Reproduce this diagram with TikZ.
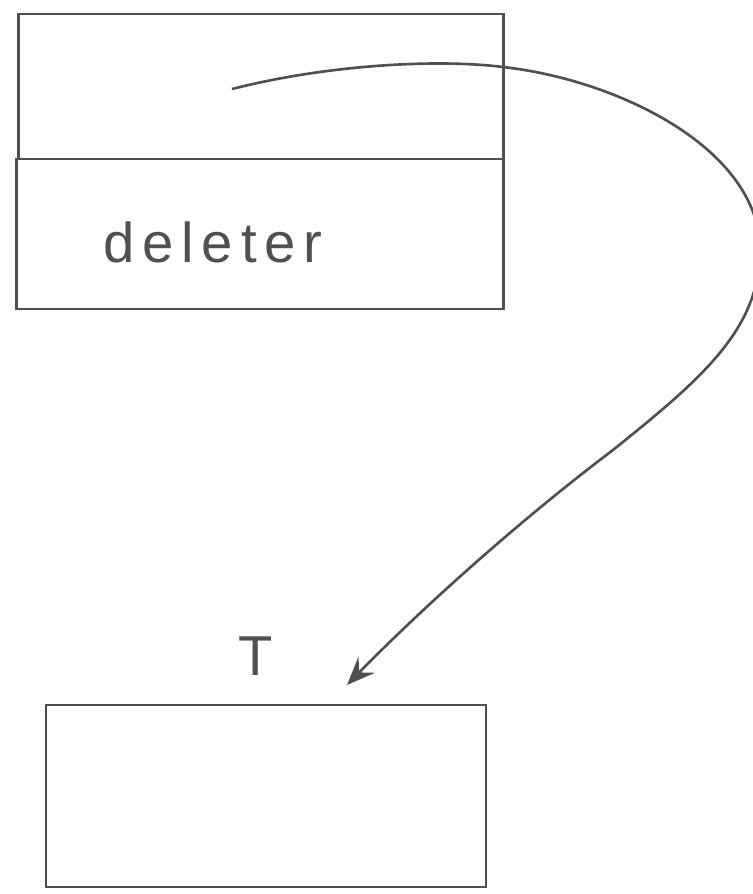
\documentclass[tikz,border=0pt]{standalone}
\usepackage{fontspec}
\newfontfamily\hand[LetterSpace=14]{Liberation Sans}
\usetikzlibrary{arrows.meta}
\definecolor{pencil}{HTML}{505050}
\tikzset{
  sketchbox/.style={draw=pencil, line width=1.5pt, rectangle, inner sep=0pt},
  sketchtext/.style={text=pencil, font=\hand\fontsize{32}{32}\selectfont, inner sep=0pt},
  pointer/.style={draw=pencil, line width=1.5pt, -{Stealth[length=16pt,width=13pt,inset=6pt]}}
}
\begin{document}
\begin{tikzpicture}[x=0.02cm,y=-0.02cm]
\useasboundingbox (0,0) rectangle (753,894);
% upper compartment of the structure
\node[sketchbox, minimum width=9.7cm, minimum height=2.9cm] (upper) at (261,86.5) {};
% lower compartment
\node[sketchbox, minimum width=9.74cm, minimum height=3.0cm] (lower) at (260,234) {};
\node[sketchtext, anchor=base] (deleter) at (213,262) {deleter};
% target box
\node[sketchbox, minimum width=8.8cm, minimum height=3.64cm] (tbox) at (266,796) {};
\node[sketchtext, anchor=base] (tlabel) at (256,675) {T};
% pointer
\coordinate (src) at (232,89);
\coordinate (tip) at (347,685);
\draw[pointer] (src) .. controls (330,64) and (440,59) .. (503,67)
  .. controls (620,80) and (760,150) .. (760,250)
  .. controls (760,330) and (700,380) .. (613,450)
  .. controls (520,520) and (420,610) .. (tip);
\end{tikzpicture}
\end{document}
